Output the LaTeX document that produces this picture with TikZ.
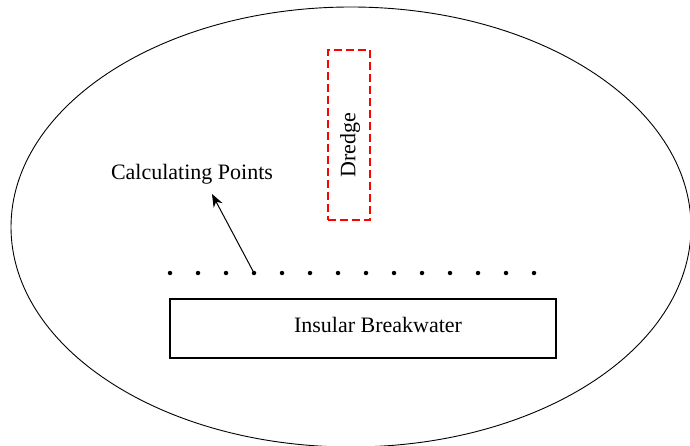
\documentclass[tikz,border=0pt]{standalone}
\usepackage{fontspec}
\setmainfont{Liberation Serif}
\usetikzlibrary{arrows.meta}

\begin{document}
\begin{tikzpicture}[x=1pt,y=-1pt,
  every node/.style={font=\fontsize{22}{26}\selectfont},
  wall/.style={draw,line width=1.3pt,minimum width=386pt,minimum height=59pt,inner sep=0pt},
  dredgebox/.style={draw=red,dash pattern=on 8pt off 4pt,line width=1.2pt,minimum width=42pt,minimum height=170pt,inner sep=0pt},
  calcpt/.style={circle,fill=black,minimum size=4.5pt,inner sep=0pt}]
\useasboundingbox (0,0) rectangle (690,446);
\draw[line width=0.9pt] (351,227) ellipse [x radius=340, y radius=220]; % basin
\node[dredgebox] (dredge) at (349,135) {};
\node[rotate=90] (dredgelabel) at (350,145) {Dredge};
\node[wall] (breakwater) at (363,328.5) {};
\node (bwlabel) at (378,325) {Insular Breakwater};
\foreach \i in {0,...,13}
  \node[calcpt] (p\i) at (170+28*\i,273) {}; % calculating points
\node (calclabel) at (192,174) {Calculating Points};
\coordinate (cptip) at (212,194);
\draw[-{Stealth[length=13pt,width=10pt]},line width=1pt] (p3.center) -- (cptip);
\end{tikzpicture}
\end{document}
